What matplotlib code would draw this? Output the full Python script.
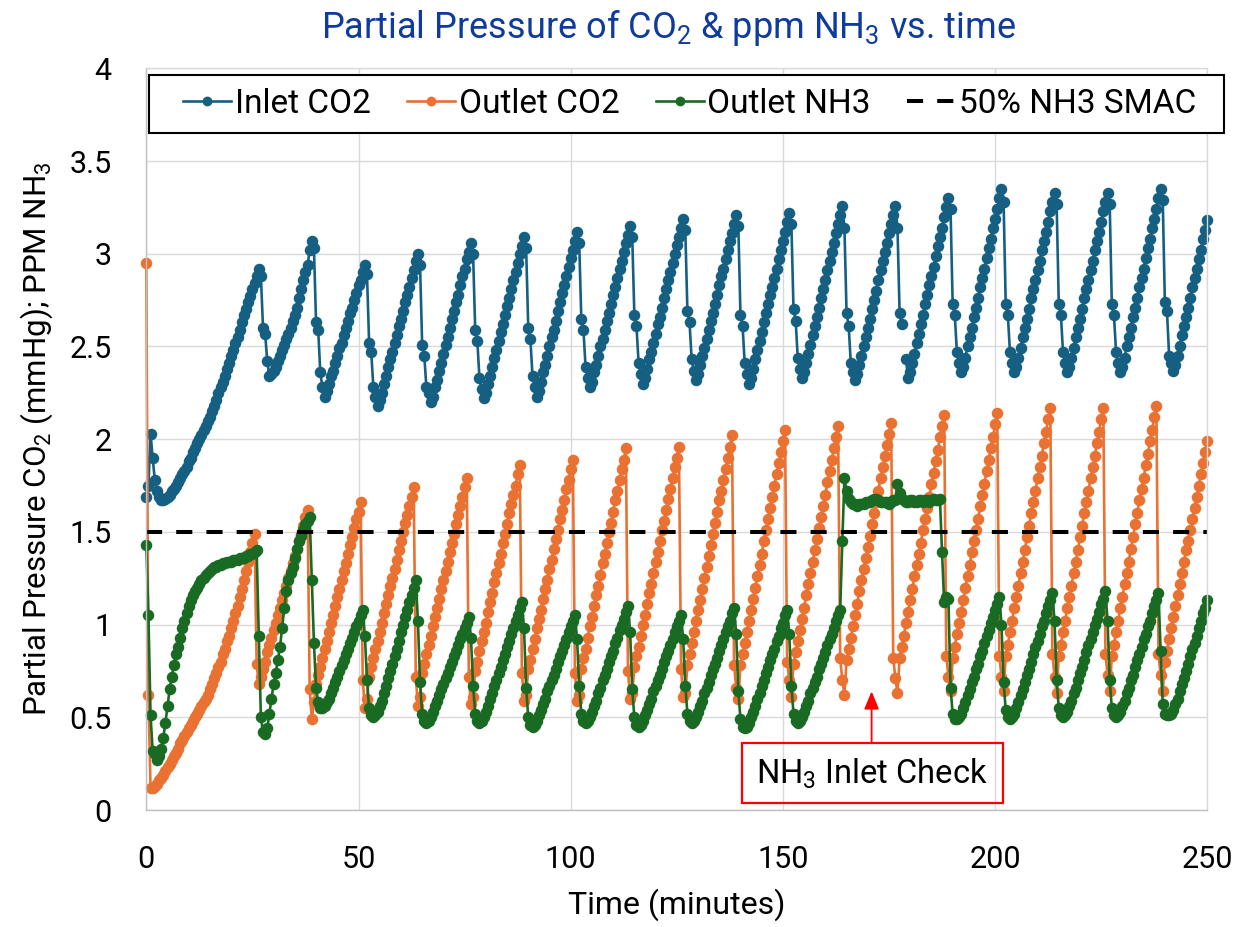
import numpy as np
import matplotlib
matplotlib.use('Agg')
import matplotlib.pyplot as plt
from matplotlib.patches import Rectangle

plt.rcParams['font.family'] = ['Roboto', 'DejaVu Sans']
plt.rcParams['mathtext.fontset'] = 'custom'
plt.rcParams['mathtext.rm'] = 'Roboto'
plt.rcParams['mathtext.it'] = 'Roboto:italic'
plt.rcParams['mathtext.bf'] = 'Roboto:bold'

nan = np.nan
sample_min = 0.5   # logger interval (minutes)

# Inlet CO2 partial pressure (mmHg), one row per bed cycle
inlet_co2 = [
    1.69, 1.75, 2.03, 1.90, 1.78, 1.72, 1.69, 1.67, 1.67, 1.68,
    1.69, 1.70, 1.72, 1.73, 1.75, 1.77, 1.79, 1.81, 1.83, 1.85,
    1.88, 1.90, 1.93, 1.95, 1.98, 2.00, 2.02, 2.05, 2.07, 2.10,
    2.12, 2.15, 2.18, 2.21, 2.25, 2.28, 2.31, 2.34, 2.38, 2.41,
    2.45, 2.48, 2.52, 2.55, 2.59, 2.63, 2.67, 2.70, 2.74, 2.77,
    2.81, 2.84, 2.88, 2.92,
    2.88, 2.60, 2.57, 2.42, 2.34, 2.35, 2.37, 2.39, 2.42, 2.45, 2.48, 2.51, 2.54, 2.57, 2.60, 2.64, 2.67, 2.71, 2.76, 2.81, 2.86, 2.90, 2.94, 3.02, 3.07,
    3.03, 2.63, 2.59, 2.36, 2.28, 2.23, 2.26, 2.30, 2.34, 2.37, 2.41, 2.45, 2.49, 2.52, 2.56, 2.60, 2.64, 2.68, 2.71, 2.75, 2.79, 2.83, 2.86, 2.90, 2.94,
    2.89, 2.52, 2.47, 2.28, 2.23, 2.18, 2.21, 2.25, 2.30, 2.34, 2.39, 2.43, 2.47, 2.52, 2.56, 2.61, 2.65, 2.69, 2.74, 2.78, 2.82, 2.87, 2.91, 2.96, 3.00,
    2.94, 2.51, 2.45, 2.28, 2.25, 2.20, 2.23, 2.28, 2.32, 2.37, 2.41, 2.46, 2.51, 2.55, 2.60, 2.65, 2.69, 2.74, 2.78, 2.83, 2.88, 2.92, 2.97, 3.01, 3.06,
    3.00, 2.59, 2.53, 2.33, 2.27, 2.22, 2.25, 2.30, 2.34, 2.39, 2.44, 2.48, 2.53, 2.58, 2.62, 2.67, 2.72, 2.76, 2.81, 2.86, 2.90, 2.95, 3.00, 3.04, 3.09,
    3.03, 2.60, 2.54, 2.34, 2.28, 2.23, 2.26, 2.31, 2.36, 2.40, 2.45, 2.50, 2.55, 2.59, 2.64, 2.69, 2.74, 2.79, 2.83, 2.88, 2.93, 2.98, 3.02, 3.07, 3.12,
    3.06, 2.65, 2.59, 2.39, 2.33, 2.28, 2.31, 2.36, 2.40, 2.45, 2.50, 2.54, 2.59, 2.64, 2.68, 2.73, 2.78, 2.82, 2.87, 2.92, 2.96, 3.01, 3.06, 3.10, 3.15,
    3.09, 2.67, 2.61, 2.41, 2.35, 2.30, 2.33, 2.38, 2.43, 2.47, 2.52, 2.57, 2.62, 2.66, 2.71, 2.76, 2.81, 2.86, 2.90, 2.95, 3.00, 3.05, 3.09, 3.14, 3.19,
    3.13, 2.69, 2.63, 2.43, 2.37, 2.32, 2.35, 2.40, 2.45, 2.49, 2.54, 2.59, 2.64, 2.68, 2.73, 2.78, 2.83, 2.88, 2.92, 2.97, 3.02, 3.07, 3.11, 3.16, 3.21,
    3.15, 2.67, 2.61, 2.41, 2.35, 2.30, 2.33, 2.38, 2.43, 2.48, 2.53, 2.58, 2.63, 2.68, 2.73, 2.78, 2.82, 2.87, 2.92, 2.97, 3.02, 3.07, 3.12, 3.17, 3.22,
    3.16, 2.70, 2.64, 2.44, 2.38, 2.33, 2.36, 2.41, 2.46, 2.51, 2.56, 2.61, 2.66, 2.71, 2.76, 2.81, 2.86, 2.91, 2.96, 3.01, 3.06, 3.11, 3.16, 3.21, 3.26,
    3.14, 2.68, 2.61, 2.41, 2.36, 2.32, 2.35, 2.40, 2.45, 2.50, 2.55, 2.60, 2.65, 2.70, 2.75, 2.80, 2.86, 2.91, 2.96, 3.01, 3.06, 3.11, 3.16, 3.21, 3.26,
    3.14, 2.68, 2.62, nan, 2.43, 2.33, 2.36, 2.41, 2.46, 2.52, 2.57, 2.62, 2.67, 2.73, 2.78, 2.83, 2.88, 2.93, 2.99, 3.04, 3.09, 3.14, 3.20, 3.25, 3.30,
    3.24, 2.73, 2.67, 2.47, 2.41, 2.36, 2.39, 2.44, 2.50, 2.55, 2.60, 2.66, 2.71, 2.76, 2.82, 2.87, 2.92, 2.98, 3.03, 3.08, 3.14, 3.19, 3.24, 3.30, 3.35,
    3.28, 2.73, 2.67, 2.47, 2.41, 2.36, 2.39, 2.44, 2.49, 2.55, 2.60, 2.65, 2.70, 2.76, 2.81, 2.86, 2.91, 2.96, 3.02, 3.07, 3.12, 3.17, 3.23, 3.28, 3.33,
    3.27, 2.73, 2.67, 2.47, 2.41, 2.36, 2.39, 2.44, 2.49, 2.55, 2.60, 2.65, 2.70, 2.76, 2.81, 2.86, 2.91, 2.96, 3.02, 3.07, 3.12, 3.17, 3.23, 3.28, 3.33,
    3.27, 2.73, 2.67, 2.47, 2.41, 2.36, 2.39, 2.44, 2.50, 2.55, 2.60, 2.66, 2.71, 2.76, 2.82, 2.87, 2.92, 2.98, 3.03, 3.08, 3.14, 3.19, 3.24, 3.30, 3.35,
    3.29, 2.74, 2.69, 2.45, 2.41, 2.37, 2.40, 2.45, 2.50, 2.56, 2.61, 2.66, 2.71, 2.76, 2.82, 2.87, 2.92, 2.97, 3.02, 3.08, 3.13, 3.18,
]

# Outlet CO2 partial pressure (mmHg)
outlet_co2 = [
    2.95, 0.62, 0.12, 0.12, 0.13, 0.14, 0.16, 0.17, 0.19, 0.21,
    0.23, 0.25, 0.27, 0.29, 0.31, 0.33, 0.36, 0.38, 0.40, 0.42,
    0.44, 0.46, 0.48, 0.50, 0.52, 0.54, 0.56, 0.58, 0.60, 0.62,
    0.65, 0.68, 0.71, 0.74, 0.77, 0.80, 0.84, 0.87, 0.91, 0.94,
    0.98, 1.02, 1.06, 1.10, 1.15, 1.19, 1.24, 1.29, 1.34, 1.39,
    1.44, 1.49,
    0.79, 0.68, 0.72, 0.76, 0.80, 0.85, 0.89, 0.93, 0.97, 1.01, 1.05, 1.09, 1.13, 1.17, 1.21, 1.25, 1.29, 1.33, 1.37, 1.41, 1.45, 1.49, 1.53, 1.58, 1.62,
    0.65, 0.49, 0.58, 0.68, 0.73, 0.77, 0.82, 0.87, 0.91, 0.96, 1.01, 1.05, 1.10, 1.15, 1.19, 1.24, 1.29, 1.33, 1.38, 1.43, 1.47, 1.52, 1.57, 1.61, 1.66,
    0.70, 0.55, 0.60, 0.72, 0.77, 0.82, 0.87, 0.91, 0.96, 1.01, 1.06, 1.11, 1.16, 1.21, 1.25, 1.30, 1.35, 1.40, 1.45, 1.50, 1.55, 1.59, 1.64, 1.69, 1.74,
    0.72, 0.56, 0.61, 0.74, 0.79, 0.84, 0.89, 0.94, 0.99, 1.04, 1.09, 1.14, 1.19, 1.24, 1.29, 1.34, 1.39, 1.44, 1.49, 1.54, 1.59, 1.64, 1.69, 1.74, 1.79,
    0.72, 0.57, 0.61, 0.75, 0.80, 0.86, 0.91, 0.96, 1.01, 1.07, 1.12, 1.17, 1.23, 1.28, 1.33, 1.38, 1.44, 1.49, 1.54, 1.60, 1.65, 1.70, 1.75, 1.81, 1.86,
    0.74, 0.59, 0.62, 0.76, 0.81, 0.87, 0.92, 0.98, 1.03, 1.08, 1.14, 1.19, 1.24, 1.30, 1.35, 1.41, 1.46, 1.51, 1.57, 1.62, 1.67, 1.73, 1.78, 1.84, 1.89,
    0.74, 0.59, 0.62, 0.76, 0.82, 0.87, 0.93, 0.99, 1.04, 1.10, 1.16, 1.21, 1.27, 1.33, 1.38, 1.44, 1.50, 1.55, 1.61, 1.67, 1.72, 1.78, 1.84, 1.89, 1.95,
    0.75, 0.60, 0.63, 0.77, 0.83, 0.88, 0.94, 1.00, 1.05, 1.11, 1.17, 1.22, 1.28, 1.34, 1.39, 1.45, 1.51, 1.56, 1.62, 1.68, 1.73, 1.79, 1.85, 1.90, 1.96,
    0.76, 0.61, 0.63, 0.78, 0.84, 0.90, 0.96, 1.02, 1.08, 1.13, 1.19, 1.25, 1.31, 1.37, 1.43, 1.49, 1.55, 1.61, 1.67, 1.72, 1.78, 1.84, 1.90, 1.96, 2.02,
    0.78, 0.66, 0.60, 0.78, 0.84, 0.90, 0.96, 1.02, 1.08, 1.14, 1.20, 1.26, 1.32, 1.38, 1.45, 1.51, 1.57, 1.63, 1.69, 1.75, 1.81, 1.87, 1.93, 1.99, 2.05,
    0.80, 0.70, 0.61, 0.79, 0.85, 0.91, 0.97, 1.03, 1.09, 1.16, 1.22, 1.28, 1.34, 1.40, 1.46, 1.52, 1.58, 1.64, 1.70, 1.77, 1.83, 1.89, 1.95, 2.01, 2.07,
    0.82, 0.70, 0.62, 0.81, 0.87, 0.93, 0.99, 1.05, 1.11, 1.18, 1.24, 1.30, 1.36, 1.42, 1.48, 1.54, 1.60, 1.66, 1.72, 1.79, 1.85, 1.91, 1.97, 2.03, 2.09,
    0.82, 0.71, 0.63, 0.82, 0.88, 0.94, 1.01, 1.07, 1.13, 1.19, 1.26, 1.32, 1.38, 1.44, 1.51, 1.57, 1.63, 1.69, 1.76, 1.82, 1.88, 1.94, 2.01, 2.07, 2.13,
    0.83, 0.72, 0.64, 0.82, 0.88, 0.95, 1.01, 1.07, 1.13, 1.20, 1.26, 1.32, 1.39, 1.45, 1.51, 1.57, 1.64, 1.70, 1.76, 1.83, 1.89, 1.95, 2.01, 2.08, 2.14,
    0.83, 0.72, 0.64, 0.83, 0.89, 0.96, 1.02, 1.09, 1.15, 1.21, 1.28, 1.34, 1.40, 1.47, 1.53, 1.60, 1.66, 1.72, 1.79, 1.85, 1.91, 1.98, 2.04, 2.11, 2.17,
    0.84, 0.72, 0.63, 0.83, 0.89, 0.96, 1.02, 1.09, 1.15, 1.21, 1.28, 1.34, 1.40, 1.47, 1.53, 1.60, 1.66, 1.72, 1.79, 1.85, 1.91, 1.98, 2.04, 2.11, 2.17,
    0.84, 0.73, 0.64, 0.83, 0.89, 0.96, 1.02, 1.09, 1.15, 1.22, 1.28, 1.34, 1.41, 1.47, 1.54, 1.60, 1.67, 1.73, 1.79, 1.86, 1.92, 1.99, 2.05, 2.12, 2.18,
    0.84, 0.73, 0.64, 0.80, 0.86, 0.92, 0.98, 1.04, 1.10, 1.16, 1.22, 1.28, 1.34, 1.40, 1.45, 1.51, 1.57, 1.63, 1.69, 1.75, 1.81, 1.87, 1.93, 1.99,
]

# Outlet NH3 (ppm); plateau = NH3 inlet check
outlet_nh3 = [
    1.43, 1.05, 0.51, 0.32, 0.30, 0.27, 0.29, 0.33, 0.39, 0.47,
    0.56, 0.65, 0.72, 0.78, 0.84, 0.88, 0.93, 0.98, 1.02, 1.06,
    1.10, 1.13, 1.16, 1.18, 1.20, 1.22, 1.24, 1.25, 1.27, 1.28,
    1.29, 1.30, 1.31, 1.31, 1.32, 1.32, 1.33, 1.33, 1.34, 1.34,
    1.34, 1.35, 1.35, 1.35, 1.36, 1.36, 1.36, 1.37, 1.37, 1.38,
    1.38, 1.39, 1.40,
    0.94, 0.50, 0.42, 0.41, 0.44, 0.52, 0.60, 0.68, 0.74, 0.81, 0.88, 0.98, 1.09, 1.18, 1.24, 1.28, 1.31, 1.36, 1.41, 1.45, 1.48, 1.51, 1.54, 1.56, 1.58,
    1.24, 0.90, 0.66, 0.58, 0.55, 0.55, 0.56, 0.58, 0.60, 0.63, 0.66, 0.69, 0.72, 0.75, 0.78, 0.81, 0.84, 0.87, 0.90, 0.93, 0.96, 0.99, 1.02, 1.05, 1.08,
    0.94, 0.70, 0.55, 0.51, 0.50, 0.51, 0.53, 0.56, 0.59, 0.63, 0.67, 0.71, 0.75, 0.79, 0.83, 0.87, 0.91, 0.96, 1.00, 1.04, 1.08, 1.12, 1.16, 1.20, 1.24,
    1.02, 0.69, 0.52, 0.48, 0.47, 0.48, 0.50, 0.53, 0.56, 0.59, 0.62, 0.65, 0.68, 0.71, 0.74, 0.77, 0.80, 0.83, 0.86, 0.89, 0.92, 0.95, 0.98, 1.01, 1.04,
    0.93, 0.67, 0.52, 0.48, 0.47, 0.48, 0.50, 0.53, 0.56, 0.60, 0.63, 0.67, 0.70, 0.74, 0.77, 0.81, 0.84, 0.88, 0.91, 0.95, 0.98, 1.02, 1.05, 1.09, 1.12,
    0.98, 0.66, 0.50, 0.46, 0.45, 0.46, 0.48, 0.51, 0.54, 0.57, 0.60, 0.64, 0.67, 0.70, 0.73, 0.76, 0.80, 0.83, 0.86, 0.89, 0.92, 0.96, 0.99, 1.02, 1.05,
    0.92, 0.67, 0.52, 0.48, 0.47, 0.48, 0.50, 0.53, 0.56, 0.59, 0.63, 0.66, 0.70, 0.73, 0.76, 0.80, 0.83, 0.86, 0.90, 0.93, 0.97, 1.00, 1.03, 1.07, 1.10,
    0.96, 0.65, 0.50, 0.46, 0.45, 0.46, 0.48, 0.51, 0.54, 0.57, 0.60, 0.64, 0.67, 0.70, 0.73, 0.76, 0.80, 0.83, 0.86, 0.89, 0.92, 0.96, 0.99, 1.02, 1.05,
    0.92, 0.67, 0.52, 0.48, 0.47, 0.48, 0.50, 0.53, 0.56, 0.59, 0.63, 0.66, 0.69, 0.73, 0.76, 0.79, 0.82, 0.86, 0.89, 0.92, 0.96, 0.99, 1.02, 1.06, 1.09,
    0.95, 0.64, 0.49, 0.45, 0.44, 0.45, 0.47, 0.50, 0.53, 0.56, 0.60, 0.63, 0.67, 0.70, 0.74, 0.77, 0.81, 0.84, 0.87, 0.91, 0.94, 0.98, 1.01, 1.05, 1.08,
    0.95, 0.67, 0.52, 0.48, 0.47, 0.48, 0.50, 0.53, 0.56, 0.59, 0.63, 0.66, 0.69, 0.72, 0.76, 0.79, 0.82, 0.85, 0.89, 0.92, 0.95, 0.98, 1.02, 1.05, 1.08,
    1.45, 1.79, 1.72, 1.68, 1.66, 1.65, 1.65, 1.64, 1.65, 1.65, 1.65, 1.66, 1.66, 1.66, 1.67, 1.68, 1.68, 1.67, 1.66, 1.66, 1.66, 1.66, 1.65, 1.66, 1.67,
    1.67, 1.76, 1.71, 1.68, 1.67, 1.66, 1.66, 1.67, 1.67, 1.66, 1.66, 1.67, 1.67, 1.66, 1.67, 1.67, 1.66, 1.67, 1.68, 1.67, 1.67, 1.68, 1.39, 1.12, 1.15,
    1.14, 0.66, 0.52, 0.49, 0.49, 0.50, 0.52, 0.55, 0.58, 0.62, 0.65, 0.69, 0.72, 0.76, 0.79, 0.83, 0.86, 0.90, 0.94, 0.97, 1.01, 1.04, 1.08, 1.11, 1.15,
    1.00, 0.69, 0.54, 0.50, 0.49, 0.50, 0.52, 0.55, 0.58, 0.62, 0.65, 0.69, 0.73, 0.76, 0.80, 0.84, 0.88, 0.91, 0.95, 0.99, 1.02, 1.06, 1.10, 1.13, 1.17,
    1.02, 0.70, 0.55, 0.51, 0.50, 0.51, 0.53, 0.56, 0.59, 0.63, 0.66, 0.70, 0.74, 0.77, 0.81, 0.85, 0.89, 0.92, 0.96, 1.00, 1.03, 1.07, 1.11, 1.14, 1.18,
    1.02, 0.70, 0.55, 0.51, 0.50, 0.51, 0.53, 0.56, 0.59, 0.63, 0.66, 0.70, 0.73, 0.77, 0.81, 0.84, 0.88, 0.92, 0.95, 0.99, 1.02, 1.06, 1.10, 1.13, 1.17,
    0.86, 0.57, 0.52, 0.51, 0.51, 0.52, 0.54, 0.57, 0.60, 0.64, 0.68, 0.71, 0.75, 0.79, 0.83, 0.87, 0.90, 0.94, 0.98, 1.02, 1.06, 1.09, 1.13,
]

smac_limit = 1.5          # 50% of NH3 SMAC
time_span = [0, 250]

x_ticks = [0, 50, 100, 150, 200, 250]
y_ticks = [0, 0.5, 1, 1.5, 2, 2.5, 3, 3.5, 4]
y_tick_labels = ['0', '0.5', '1', '1.5', '2', '2.5', '3', '3.5', '4']

check_time = 170.9        # where the arrow points
check_level = 0.64

series = [
    ('Inlet CO2', inlet_co2, '#156082'),
    ('Outlet CO2', outlet_co2, '#E97132'),
    ('Outlet NH3', outlet_nh3, '#196B24'),
]

W, H = 1258, 927
fig = plt.figure(figsize=(W / 100, H / 100), dpi=100)
ax = fig.add_axes([146.3 / W, 1 - 810 / H, 1061 / W, 741.6 / H])

for z, (name, vals, col) in enumerate(series):
    t = np.arange(len(vals)) * sample_min
    ax.plot(t, vals, color=col, lw=1.9, marker='o', ms=8.3, mew=0,
            label=name, clip_on=False, zorder=2 + 0.1 * z)
ax.plot(time_span, [smac_limit, smac_limit], color='black', lw=2.9,
        ls=(0, (4, 3.5)), label='50% NH3 SMAC', zorder=2.5)

ax.set_xlim(0, 250)
ax.set_ylim(0, 4)
ax.set_xticks(x_ticks)
ax.set_xticklabels([str(v) for v in x_ticks])
ax.set_yticks(y_ticks)
ax.set_yticklabels(y_tick_labels)
ax.tick_params(length=0, labelsize=22, pad=25, colors='black')
ax.grid(True, color='#D9D9D9', lw=1.0)
ax.set_axisbelow(True)
for side in ['top', 'right']:
    ax.spines[side].set_color('#D9D9D9')
for side in ['left', 'bottom']:
    ax.spines[side].set_color('#BFBFBF')
for s in ax.spines.values():
    s.set_linewidth(1.0)

ax.set_xlabel('Time (minutes)', fontsize=23, va='center')
ax.xaxis.set_label_coords(0.5, (810 - 905) / 741.6)
ax.set_ylabel('Partial Pressure CO$_{\\mathregular{2}}$ (mmHg); PPM NH$_{\\mathregular{3}}$',
              fontsize=22.5, va='center')
ax.yaxis.set_label_coords((37 - 146.3) / 1061, 0.5)

fig.text(668 / W, 1 - 28 / H,
         'Partial Pressure of CO$_{\\mathregular{2}}$ & ppm NH$_{\\mathregular{3}}$ vs. time',
         ha='center', va='center', fontsize=26, color='#0E3B9C')

# legend box (frame drawn separately so the padding matches)
ax.add_patch(Rectangle((2.2 / 1061, (810 - 133) / 741.6), 1075.5 / 1061, 58 / 741.6,
                       transform=ax.transAxes, fc='white', ec='black', lw=1.5,
                       clip_on=False, zorder=4.5))
ax.legend(loc='center left', bbox_to_anchor=((183 - 146.3) / 1061, (810 - 104) / 741.6,
                                             (1196 - 183) / 1061, 0),
          mode='expand', ncol=4, frameon=False, borderpad=0, fontsize=24,
          handlelength=1.45, handletextpad=0.1, numpoints=1, borderaxespad=0,
          markerscale=0.85)

# NH3 inlet check callout
ax.add_patch(Rectangle((140.3, 0.04), 61.5, 0.32, fc='none', ec='red', lw=1.6,
                       clip_on=False, zorder=3))
ax.text(check_time, 0.195, 'NH$_{\\mathregular{3}}$ Inlet Check', ha='center', va='center',
        fontsize=23.5, zorder=3)
ax.annotate('', xy=(check_time, check_level), xytext=(check_time, 0.36),
            arrowprops=dict(arrowstyle='-|>,head_length=0.6,head_width=0.25',
                            color='red', lw=1.3, mutation_scale=18,
                            shrinkA=0, shrinkB=0), zorder=3)

fig.savefig('out.png', dpi=100)
